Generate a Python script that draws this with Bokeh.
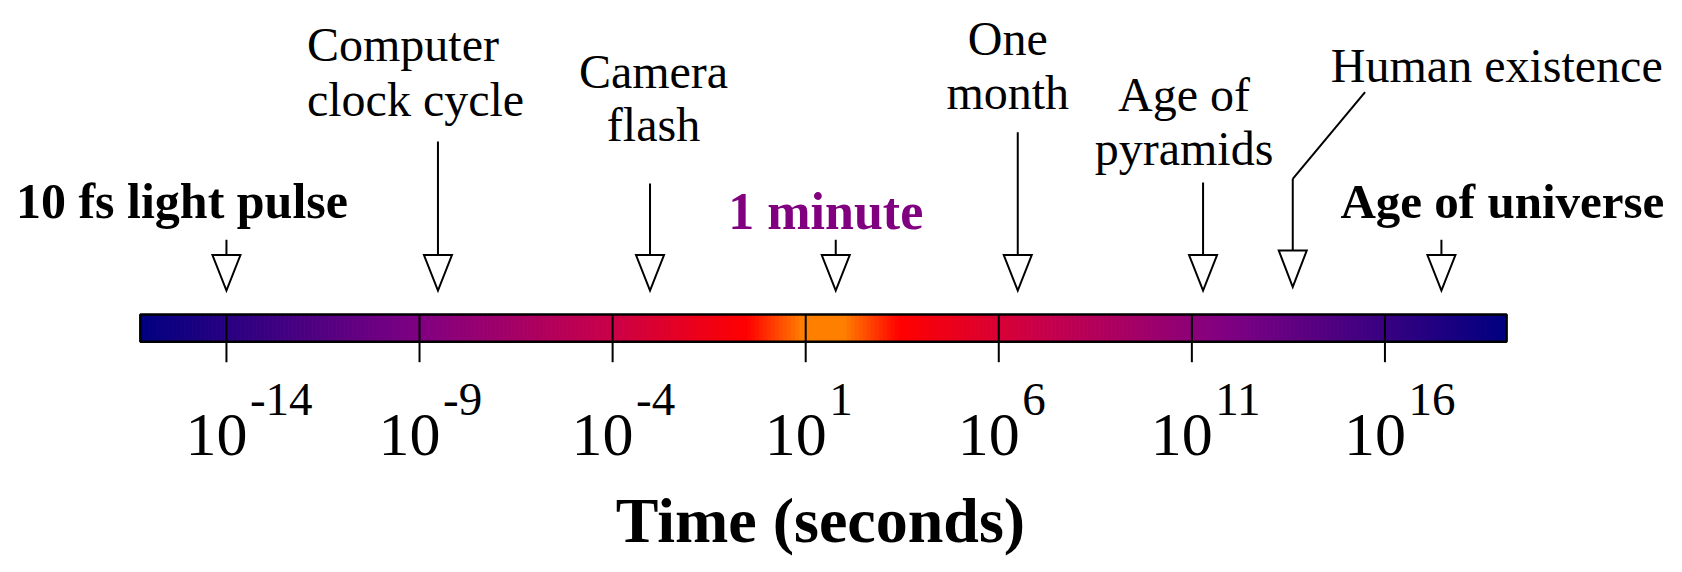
import numpy as np
from bokeh.plotting import figure
from bokeh.models import Range1d
from bokeh.core.properties import value
from bokeh.embed import file_html
from bokeh.resources import INLINE

# ---------------- data ----------------
event_names = ["10 fs light pulse", "Computer clock cycle", "Camera flash", "1 minute",
               "One month", "Age of pyramids", "Human existence", "Age of universe"]
event_seconds = [1e-14, 3.0e-9, 9.3e-4, 60.0, 3.1e6, 1.95e11, 4.1e13, 2.9e17]
tick_exponents = [-14, -9, -4, 1, 6, 11, 16]
tick_exponent_labels = ["-14", "-9", "-4", "1", "6", "11", "16"]
tick_base_labels = ["10", "10", "10", "10", "10", "10", "10"]
bar_exponent_span = [-16.23, 19.15]
axis_title = "Time (seconds)"
axis_title_center = 1.38

# colour ramp of the bar (fraction from bar end toward bar centre -> colour)
grad_pos = [0.0, 0.41, 0.69, 0.888, 0.97, 1.0]
grad_rgb = [(0, 0, 128), (128, 0, 130), (202, 0, 72), (255, 0, 0), (255, 128, 0), (255, 128, 0)]

# ---------------- layout / style ----------------
FONT = value("Liberation Serif")
W, H = 1666, 556
PX_PER_DEC = 38.617
BAR_TOP, BAR_BOT = 314.0, 341.3
TICK_BOT = 361.7
BASE_SHIFT = 0.33  # baseline correction (fraction of font size)

p = figure(width=W, height=H, output_backend="svg", toolbar_location=None,
           x_range=Range1d(-19.851, 23.291), y_range=Range1d(H, 0),
           min_border_left=0, min_border_right=0, min_border_top=0, min_border_bottom=0,
           x_axis_location=None, y_axis_location=None)
p.outline_line_color = None
p.grid.visible = False
p.background_fill_color = "white"
p.border_fill_color = "white"


def txt(x, baseline, s, size, dx=0, align="center", style="normal", color="black"):
    p.text(x=x, y=[baseline - BASE_SHIFT * size] * len(x), text=s, x_offset=dx,
           text_align=align, text_baseline="alphabetic", text_font=FONT,
           text_font_style=style, text_font_size=f"{size}px", text_color=color)


# gradient bar
lo, hi = bar_exponent_span
N = 342
edges = np.linspace(lo, hi, N + 1)
centers = (edges[:-1] + edges[1:]) / 2
mid, half = (lo + hi) / 2, (hi - lo) / 2
t = 1 - np.abs(centers - mid) / half
rr = np.interp(t, grad_pos, [c[0] for c in grad_rgb])
gg = np.interp(t, grad_pos, [c[1] for c in grad_rgb])
bb = np.interp(t, grad_pos, [c[2] for c in grad_rgb])
cols = ["#%02x%02x%02x" % (int(round(a)), int(round(b)), int(round(c))) for a, b, c in zip(rr, gg, bb)]
p.quad(left=edges[:-1], right=edges[1:], top=BAR_TOP, bottom=BAR_BOT,
       fill_color=cols, line_color=cols, line_width=1)
p.quad(left=lo, right=hi, top=BAR_TOP, bottom=BAR_BOT, fill_color=None,
       line_color="black", line_width=2.5)

# axis ticks (through the bar and below it)
p.segment(x0=tick_exponents, y0=BAR_TOP, x1=tick_exponents, y1=TICK_BOT,
          line_color="black", line_width=2)

# tick labels 10^n
txt(tick_exponents, 455, tick_base_labels, 62, dx=21, align="right")
txt(tick_exponents, 415, tick_exponent_labels, 47, dx=23.5, align="left")

# axis title
txt([axis_title_center], 541, [axis_title], 64, style="bold")

# arrows
ex = np.log10(np.array(event_seconds))
stem_top = [239.3, 141.0, 183.0, 239.3, 131.7, 182.0, 178.3, 239.3]
tri_top = [254.5, 254.5, 254.5, 254.5, 254.5, 254.5, 250.0, 254.5]
tri_tip = [290.0, 290.0, 290.0, 290.0, 290.0, 290.0, 286.5, 290.0]
hw = 14.0 / PX_PER_DEC
p.segment(x0=ex, y0=stem_top, x1=ex, y1=tri_top, line_color="black", line_width=2)
p.patches(xs=[[x - hw, x + hw, x] for x in ex],
          ys=[[a, a, b] for a, b in zip(tri_top, tri_tip)],
          fill_color="white", line_color="black", line_width=2, line_join="miter")
# bent leader for "Human existence"
hx = ex[6]
p.line(x=[hx + 72.3 / PX_PER_DEC, hx], y=[91.7, 178.3], line_color="black", line_width=2)

# event labels: (event index, line text, dx px, baseline y, align, style, size, colour)
rows = [
    (0, "10 fs light pulse", -44.5, 216.7, "center", "bold", 50, "black"),
    (1, "Computer", -131, 60.0, "left", "normal", 48, "black"),
    (1, "clock cycle", -131, 115.0, "left", "normal", 48, "black"),
    (2, "Camera", 3.5, 86.7, "center", "normal", 48, "black"),
    (2, "flash", 3.5, 140.0, "center", "normal", 48, "black"),
    (3, "1 minute", -10, 228.0, "center", "bold", 52, "#800080"),
    (4, "One", -10, 54.0, "center", "normal", 48, "black"),
    (4, "month", -10, 107.5, "center", "normal", 48, "black"),
    (5, "Age of", -19, 110.0, "center", "normal", 48, "black"),
    (5, "pyramids", -19, 164.0, "center", "normal", 48, "black"),
    (6, "Human existence", 204, 81.0, "center", "normal", 48, "black"),
    (7, "Age of universe", 61, 216.7, "center", "bold", 49, "black"),
]
for i, s, dx, yb, al, st, sz, col in rows:
    txt([ex[i]], yb, [s], sz, dx=dx, align=al, style=st, color=col)

open("out.html", "w").write(file_html(p, INLINE))
